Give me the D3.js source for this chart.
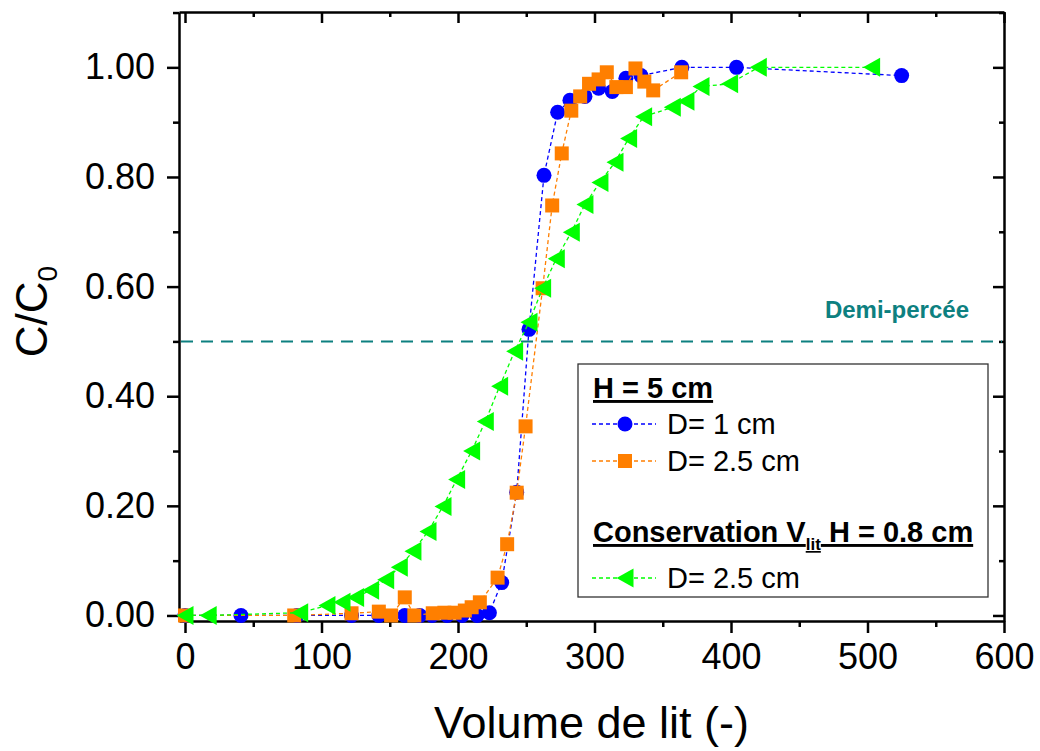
<!DOCTYPE html>
<html><head><meta charset="utf-8">
<script src="https://cdn.jsdelivr.net/npm/d3@7"></script>
<style>body{margin:0;background:#fff}svg{display:block;font-family:"Liberation Sans",Arial,sans-serif}</style>
</head><body><svg id="c" width="1040" height="751"></svg>
<script>
const xTicks = [0, 100, 200, 300, 400, 500, 600];
const yTicks = [0, 0.2, 0.4, 0.6, 0.8, 1.0];
const xMinor = [50, 150, 250, 350, 450, 550];
const yMinor = [0.1, 0.3, 0.5, 0.7, 0.9, 1.1];

const blueX = [0, 41, 82, 122, 142, 161, 172, 181, 192, 203, 214, 223, 232, 243, 252, 263, 273, 282, 293, 303, 313, 323, 334, 364, 404, 525];
const blueY = [0, 0, 0, 0, 0, 0, 0, 0, 0, 0, 0, 0.005, 0.06, 0.225, 0.522, 0.803, 0.918, 0.94, 0.947, 0.962, 0.956, 0.98, 0.985, 1.0, 1.0, 0.985];

const orangeX = [0, 80, 122, 142, 151, 161, 168, 181.5, 190, 197.5, 205, 210, 216, 229, 236, 243, 249.5, 262, 269, 276, 283, 289.5, 296, 303, 309, 316, 323, 330, 336.5, 343, 363.5];
const orangeY = [0, 0, 0.004, 0.007, 0, 0.033, 0, 0.004, 0.005, 0.005, 0.009, 0.015, 0.024, 0.069, 0.13, 0.224, 0.345, 0.597, 0.748, 0.843, 0.921, 0.947, 0.97, 0.978, 0.991, 0.964, 0.964, 0.998, 0.974, 0.958, 0.991];

const greenX = [0, 17, 84, 104, 115, 125, 136, 147, 157, 167, 178, 189, 199, 210, 220, 230.5, 241.5, 252, 262, 272, 283, 293, 304, 315, 325, 336, 357, 367, 378, 399, 420, 503];
const greenY = [0, 0, 0.005, 0.018, 0.024, 0.033, 0.046, 0.065, 0.088, 0.117, 0.153, 0.199, 0.248, 0.30, 0.354, 0.418, 0.482, 0.535, 0.597, 0.651, 0.699, 0.75, 0.79, 0.827, 0.87, 0.91, 0.927, 0.938, 0.965, 0.97, 1.0, 1.0];

const halfLevel = 0.5;

const svg = d3.select("#c");
const L = 179, R = 1004, T = 12, B = 621;
const x = d3.scaleLinear().domain([-4.4, 600]).range([L, R]);
const y = d3.scaleLinear().domain([-0.0101, 1.101]).range([B, T]);

const fmt = d3.format(".2f");
function styleAxis(g){
  g.selectAll(".domain").attr("stroke","#000").attr("stroke-width",2.5);
  g.selectAll(".tick line").attr("stroke","#000").attr("stroke-width",2.5);
}
// bottom
const gb = svg.append("g").attr("transform",`translate(0,${B})`)
  .call(d3.axisBottom(x).tickValues(xTicks).tickSize(12).tickSizeOuter(0).tickPadding(10).tickFormat(d3.format("d")));
styleAxis(gb);
gb.selectAll("text").attr("font-size",36).attr("fill","#000").attr("font-family","Liberation Sans, Arial");
svg.append("g").attr("transform",`translate(0,${B})`)
  .call(d3.axisBottom(x).tickValues(xMinor).tickSize(6).tickSizeOuter(0).tickFormat(""))
  .call(g=>{g.select(".domain").remove(); g.selectAll("line").attr("stroke","#000").attr("stroke-width",2.5);});
// left
const gl = svg.append("g").attr("transform",`translate(${L},0)`)
  .call(d3.axisLeft(y).tickValues(yTicks).tickSize(12).tickSizeOuter(0).tickPadding(12).tickFormat(fmt));
styleAxis(gl);
gl.selectAll("text").attr("font-size",36).attr("fill","#000").attr("font-family","Liberation Sans, Arial");
svg.append("g").attr("transform",`translate(${L},0)`)
  .call(d3.axisLeft(y).tickValues(yMinor).tickSize(6).tickSizeOuter(0).tickFormat(""))
  .call(g=>{g.select(".domain").remove(); g.selectAll("line").attr("stroke","#000").attr("stroke-width",2.5);});
// top (inward)
const gt = svg.append("g").attr("transform",`translate(0,${T})`)
  .call(d3.axisTop(x).tickValues(xTicks).tickSize(-11).tickSizeOuter(0).tickFormat(""));
styleAxis(gt);
svg.append("g").attr("transform",`translate(0,${T})`)
  .call(d3.axisTop(x).tickValues(xMinor).tickSize(-5).tickSizeOuter(0).tickFormat(""))
  .call(g=>{g.select(".domain").remove(); g.selectAll("line").attr("stroke","#000").attr("stroke-width",2.5);});
// right (inward)
const gr = svg.append("g").attr("transform",`translate(${R},0)`)
  .call(d3.axisRight(y).tickValues(yTicks).tickSize(-11).tickSizeOuter(0).tickFormat(""));
styleAxis(gr);
svg.append("g").attr("transform",`translate(${R},0)`)
  .call(d3.axisRight(y).tickValues(yMinor).tickSize(-5).tickSizeOuter(0).tickFormat(""))
  .call(g=>{g.select(".domain").remove(); g.selectAll("line").attr("stroke","#000").attr("stroke-width",2.5);});

// half level line
svg.append("line").attr("x1",L+2).attr("x2",R-2).attr("y1",y(halfLevel)).attr("y2",y(halfLevel))
  .attr("stroke","#0d8080").attr("stroke-width",2).attr("stroke-dasharray","12,8");
svg.append("text").attr("x",969).attr("y",y(halfLevel)-23).attr("text-anchor","end")
  .attr("font-size",24).attr("font-weight","bold").attr("fill","#0d8080").text("Demi-percée");

// axis titles
svg.append("text").attr("x",(L+R)/2).attr("y",738).attr("text-anchor","middle").attr("font-size",45).text("Volume de lit (-)");
const yt = svg.append("text").attr("transform",`translate(47,${(T+B)/2-5}) rotate(-90)`).attr("text-anchor","middle").attr("font-size",44);
yt.append("tspan").text("C/C");
yt.append("tspan").attr("font-size",28).attr("dy",10).text("0");

const line = d3.line().x(d=>x(d[0])).y(d=>y(d[1]));
const series = [
  {xs:blueX, ys:blueY, color:"#0000ff", shape:"circle"},
  {xs:orangeX, ys:orangeY, color:"#ff7f00", shape:"square"},
  {xs:greenX, ys:greenY, color:"#00ff00", shape:"tri"}
];
function marker(g, shape, color, cx, cy){
  if(shape==="circle") g.append("circle").attr("cx",cx).attr("cy",cy).attr("r",7.5).attr("fill",color);
  else if(shape==="square") g.append("rect").attr("x",cx-7).attr("y",cy-7).attr("width",14).attr("height",14).attr("fill",color);
  else g.append("path").attr("d",`M${cx-8.5},${cy} L${cx+8.5},${cy-9.5} L${cx+8.5},${cy+9.5} Z`).attr("fill",color);
}
series.forEach(s=>{
  const pts = s.xs.map((v,i)=>[v, s.ys[i]]);
  svg.append("path").attr("d",line(pts)).attr("fill","none").attr("stroke",s.color)
    .attr("stroke-width",1.3).attr("stroke-dasharray","4,3");
  const g = svg.append("g");
  pts.forEach(p=>marker(g, s.shape, s.color, x(p[0]), y(p[1])));
});

// legend
svg.append("rect").attr("x",578).attr("y",364).attr("width",410).attr("height",233)
  .attr("fill","#fff").attr("stroke","#333").attr("stroke-width",1.3);
const lg = svg.append("g").attr("font-size",29);
lg.append("text").attr("x",593).attr("y",398).attr("font-weight","bold").attr("text-decoration","underline").text("H = 5 cm");
function legItem(yy, s, label){
  lg.append("line").attr("x1",592).attr("x2",656).attr("y1",yy).attr("y2",yy).attr("stroke",s.color).attr("stroke-width",1.3).attr("stroke-dasharray","4,3");
  marker(lg, s.shape, s.color, 625, yy);
  lg.append("text").attr("x",667).attr("y",yy+10).text(label);
}
legItem(424, series[0], "D= 1 cm");
legItem(461, series[1], "D= 2.5 cm");
const ct = lg.append("text").attr("x",593).attr("y",542).attr("font-weight","bold").attr("text-decoration","underline");
ct.append("tspan").text("Conservation V");
ct.append("tspan").attr("font-size",17).attr("dy",8).text("lit");
ct.append("tspan").attr("dy",-8).text(" H = 0.8 cm");
legItem(578, series[2], "D= 2.5 cm");
</script></body></html>
